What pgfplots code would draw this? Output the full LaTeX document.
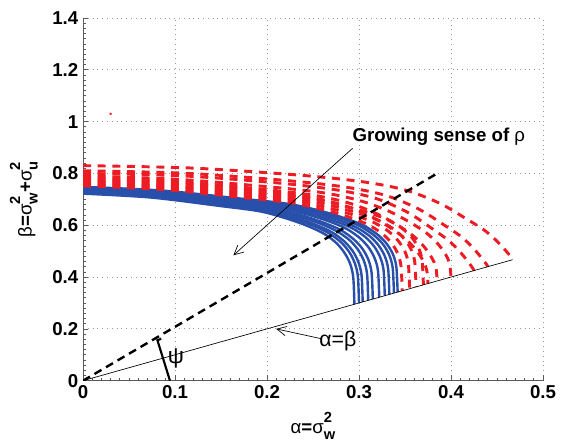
\documentclass[border=0pt]{standalone}
\usepackage{fontspec}
\setmainfont{Liberation Sans}
\usepackage{pgfplots}
\pgfplotsset{compat=1.18}
\usetikzlibrary{arrows.meta}

\definecolor{mblue}{RGB}{40,80,170}
\definecolor{mred}{RGB}{237,28,36}
\newcommand{\gk}[1]{{\mdseries #1}}
\newcommand{\sq}[1]{\makebox[0pt][l]{\raisebox{0.62em}{\fontsize{11}{11}\selectfont 2}}\raisebox{-0.32em}{\fontsize{11}{11}\selectfont #1}}
\newcommand{\lbl}{\bfseries\fontsize{14}{16}\selectfont}

\begin{document}
\begin{tikzpicture}
\begin{axis}[
    width=345pt, height=272pt, scale only axis,
    xmin=0, xmax=0.5, ymin=0, ymax=1.4,
    xtick={0,0.1,0.2,0.3,0.4,0.5},
    ytick={0,0.2,0.4,0.6,0.8,1,1.2,1.4},
    minor x tick num=9, minor y tick num=9,
    axis lines*=left,
    axis line style={gray!70!black, line width=0.6pt},
    tick align=inside,
    major tick length=4pt, minor tick length=2pt,
    tick style={gray!70!black, line width=0.5pt},
    grid=major,
    grid style={gray!80, line width=0.6pt, dash pattern=on 0.6pt off 3pt},
    /pgf/number format/assume math mode=true,
    ticklabel style={font=\lbl},
    label style={font=\lbl},
    xlabel={\gk{α}=\gk{σ}\sq{w}},
    ylabel={\gk{β}=\gk{σ}\sq{w}+\gk{σ}\sq{u}},
    xlabel style={yshift=-3pt},
    ylabel style={yshift=4pt},
]
\coordinate (SW) at (rel axis cs:0,0);
\coordinate (NE) at (rel axis cs:1,1);

% blue: solid family
\pgfplotsset{bl/.style={mblue, line width=1.8pt, smooth}}
\addplot[bl] coordinates {(0,.722) (.0738,.707) (.1475,.675) (.1918,.654) (.2213,.626) (.2449,.596) (.2626,.566) (.2758,.530) (.2847,.491) (.2906,.449) (.2938,.397) (.295,.295)};
\addplot[bl] coordinates {(0,.725) (.075,.710) (.15,.678) (.195,.657) (.225,.629) (.249,.600) (.267,.570) (.2805,.534) (.2895,.496) (.2955,.453) (.2988,.402) (.300,.300)};
\addplot[bl] coordinates {(0,.728) (.076,.713) (.152,.681) (.1976,.660) (.228,.633) (.2523,.603) (.2706,.573) (.2842,.537) (.2934,.499) (.2994,.457) (.3028,.406) (.304,.304)};
\addplot[bl] coordinates {(0,.731) (.0775,.716) (.155,.685) (.2015,.664) (.2325,.636) (.2573,.607) (.2759,.577) (.2899,.542) (.2992,.504) (.3054,.462) (.3088,.411) (.310,.310)};
\addplot[bl] coordinates {(0,.734) (.0788,.719) (.1575,.688) (.2048,.667) (.2363,.640) (.2615,.610) (.2804,.581) (.2945,.545) (.3040,.508) (.3103,.466) (.3137,.416) (.315,.315)};
\addplot[bl] coordinates {(0,.737) (.0805,.722) (.161,.691) (.2093,.671) (.2415,.644) (.2673,.615) (.2866,.586) (.3011,.550) (.3107,.513) (.3172,.471) (.3207,.422) (.322,.322)};
\addplot[bl] coordinates {(0,.740) (.082,.726) (.164,.695) (.2132,.674) (.246,.647) (.2722,.618) (.2919,.590) (.3067,.555) (.3165,.518) (.3231,.476) (.3267,.427) (.328,.328)};
\addplot[bl] coordinates {(0,.743) (.0833,.729) (.1665,.698) (.2165,.677) (.2498,.651) (.2764,.622) (.2964,.593) (.3114,.559) (.3213,.522) (.3280,.481) (.3317,.431) (.333,.333)};
\addplot[bl] coordinates {(0,.746) (.0845,.732) (.169,.701) (.2197,.681) (.2535,.654) (.2805,.626) (.3008,.597) (.3160,.562) (.3262,.526) (.3329,.485) (.3366,.436) (.338,.338)};
\addplot[bl] coordinates {(0,.748) (.0855,.734) (.171,.703) (.2223,.683) (.2565,.657) (.2839,.628) (.3044,.600) (.3198,.565) (.3300,.529) (.3369,.488) (.3406,.439) (.342,.342)};

% red: dashed family
\pgfplotsset{rd/.style={mred, line width=2.2pt, smooth, dash pattern=on 6pt off 5pt}}
\addplot[rd] coordinates {(0,.752) (.0868,.738) (.1735,.707) (.2256,.687) (.2603,.661) (.2880,.633) (.3088,.604) (.3244,.570) (.3349,.533) (.3418,.493) (.3456,.444) (.347,.347)};
\addplot[rd] coordinates {(0,.758) (.0888,.744) (.1775,.714) (.2308,.694) (.2663,.667) (.2947,.639) (.3160,.611) (.3319,.577) (.3426,.540) (.3497,.500) (.3536,.452) (.355,.355)};
\addplot[rd] coordinates {(0,.764) (.0905,.750) (.181,.720) (.2353,.700) (.2715,.674) (.3005,.645) (.3222,.617) (.3385,.583) (.3493,.547) (.3566,.507) (.3606,.458) (.362,.362)};
\addplot[rd] coordinates {(0,.770) (.0925,.756) (.185,.726) (.2405,.706) (.2775,.680) (.3071,.652) (.3293,.624) (.3460,.590) (.3571,.554) (.3645,.514) (.3685,.466) (.370,.370)};
\addplot[rd] coordinates {(0,.776) (.0938,.764) (.1875,.734) (.2438,.710) (.2813,.679) (.3113,.637) (.3338,.591) (.3506,.547) (.3619,.505) (.3694,.465) (.3735,.429) (.375,.375)};
\addplot[rd] coordinates {(0,.782) (.0963,.770) (.1925,.740) (.2503,.716) (.2888,.686) (.3196,.644) (.3427,.599) (.3600,.556) (.3715,.514) (.3792,.474) (.3835,.439) (.385,.385)};
\addplot[rd] coordinates {(0,.790) (.10,.778) (.20,.749) (.26,.726) (.30,.696) (.332,.655) (.356,.610) (.374,.568) (.386,.527) (.394,.488) (.3984,.453) (.40,.40)};
\addplot[rd] coordinates {(0,.800) (.1063,.791) (.2125,.763) (.2763,.736) (.3188,.703) (.3528,.650) (.3783,.590) (.3974,.541) (.4101,.496) (.4186,.459) (.4233,.436) (.425,.425)};
\addplot[rd] coordinates {(0,.810) (.11,.801) (.22,.773) (.286,.747) (.33,.714) (.3652,.662) (.3916,.603) (.4114,.555) (.4246,.510) (.4334,.473) (.4382,.451) (.44,.44)};
\addplot[rd] coordinates {(0,.830) (.1168,.821) (.2335,.794) (.3036,.768) (.3503,.736) (.3876,.685) (.4156,.627) (.4366,.580) (.4507,.536) (.4600,.500) (.4651,.478) (.467,.467)};

% reference lines
\addplot[black, line width=0.5pt] coordinates {(0,0) (0.467,0.467)};
\addplot[black, line width=1.8pt, dash pattern=on 6pt off 4pt] coordinates {(0,0) (0.385,0.80)};
\addplot[only marks, mark=*, mark size=0.7pt, mred] coordinates {(0.03,1.03)};

% annotations
\node[anchor=west, font=\lbl] at (axis cs:0.288,0.94) {Growing sense of \gk{ρ}};
\draw[black, line width=0.5pt, -{Straight Barb[length=7pt,width=7pt]}] (axis cs:0.293,0.897) -- (axis cs:0.1635,0.484);
\node[font=\fontsize{16}{18}\selectfont] at (axis cs:0.277,0.155) {α=β};
\draw[black, line width=0.5pt, -{Straight Barb[length=7pt,width=7pt]}] (axis cs:0.259,0.162) -- (axis cs:0.210,0.200);
\node[font=\fontsize{17}{19}\selectfont] at (axis cs:0.101,0.085) {ψ};
\draw[black, line width=1.6pt] (axis cs:0.0850,0.162) -- (axis cs:0.0809,0.156) -- (axis cs:0.0945,0);
\end{axis}
\pgfresetboundingbox
\path[use as bounding box] ([shift={(-62.25pt,-45pt)}]SW) rectangle ([shift={(15.75pt,13.5pt)}]NE);
\end{tikzpicture}
\end{document}
